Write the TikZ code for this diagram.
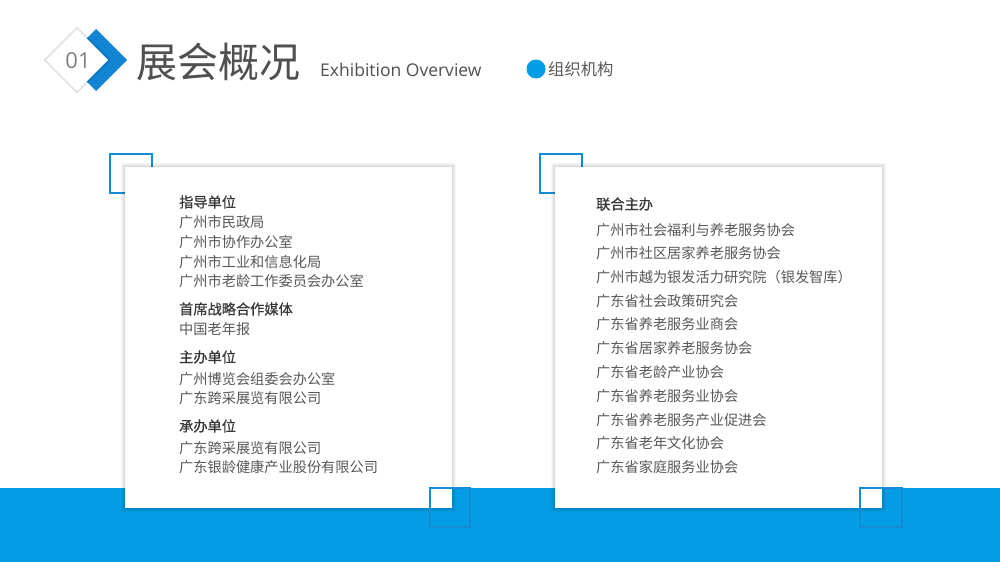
\documentclass[tikz,border=0pt]{standalone}
\usepackage{fontspec}
\setmainfont{Open Sans}
\newfontfamily\cjk{Noto Sans CJK SC}
\newfontfamily\cjkhead[FakeBold=0.7]{Noto Sans CJK SC}
\definecolor{band}{RGB}{3,157,230}
\definecolor{sqblue}{RGB}{22,140,214}
\definecolor{chev}{RGB}{18,132,212}
\definecolor{itemgray}{RGB}{88,88,88}
\definecolor{headgray}{RGB}{55,55,55}
\definecolor{titlegray}{RGB}{80,80,80}
\begin{document}
\begin{tikzpicture}[x=1pt,y=-1pt,
  sqbox/.style={draw=sqblue,line width=2.4pt},
  item/.style={anchor=base west,inner sep=0pt,text=itemgray,font=\cjk\fontsize{14.2}{16}\selectfont},
  head/.style={anchor=base west,inner sep=0pt,text=headgray,font=\cjkhead\fontsize{14.2}{16}\selectfont},
  card/.style={fill=white}]
\useasboundingbox (0,0) rectangle (1000,562);
\fill[white] (0,0) rectangle (1000,562);
% blue band
\fill[band] (0,488) rectangle (1000,562);
% header diamonds
\fill[chev] (96,29) -- (127,60) -- (96,91) -- (65,60) -- cycle;
\foreach \i in {1,2,3}{
  \fill[black,opacity=0.05] (77,29-\i) -- (108+\i,60) -- (77,91+\i) -- (46-\i,60) -- cycle;}
\fill[white] (77,29) -- (108,60) -- (77,91) -- (46,60) -- cycle;
\node[anchor=center,inner sep=0pt,text=gray,font=\fontsize{22}{24}\selectfont] (num) at (78,61) {01};
\node[anchor=base west,inner sep=0pt,text=titlegray,font=\cjk\fontsize{41}{44}\selectfont] (title) at (136,77.5) {展会概况};
\node[anchor=base west,inner sep=0pt,text=titlegray,font=\fontsize{17.5}{20}\selectfont] (sub) at (320,76) {Exhibition Overview};
\fill[band] (536,69) circle (9.5);
\node[anchor=base west,inner sep=0pt,text=itemgray,font=\cjk\fontsize{16.3}{18}\selectfont] (org) at (548,75.2) {组织机构};
% top-left squares behind cards
\draw[sqbox] (110,154) rectangle (152,193);
\draw[sqbox] (540,154) rectangle (582,193);
% card shadows
\foreach \i in {1,2,3,4}{
  \fill[black,opacity=0.035] (125-\i,167-\i) rectangle (452+\i,508+\i);
  \fill[black,opacity=0.035] (555-\i,167-\i) rectangle (882+\i,508+\i);}
\fill[card] (125,167) rectangle (452,508);
\fill[card] (555,167) rectangle (882,508);
% bottom-right squares over cards
\draw[sqbox] (430,488) rectangle (470,527);
\draw[sqbox] (860,488) rectangle (902,527);
% left card text
\node[head] (l1) at (179,207.4) {指导单位};
\node[item] (l2) at (179,227.4) {广州市民政局};
\node[item] (l3) at (179,247.4) {广州市协作办公室};
\node[item] (l4) at (179,267.4) {广州市工业和信息化局};
\node[item] (l5) at (179,286.4) {广州市老龄工作委员会办公室};
\node[head] (l6) at (179,314.4) {首席战略合作媒体};
\node[item] (l7) at (179,334.4) {中国老年报};
\node[head] (l8) at (179,362.4) {主办单位};
\node[item] (l9) at (179,384.4) {广州博览会组委会办公室};
\node[item] (l10) at (179,403.4) {广东跨采展览有限公司};
\node[head] (l11) at (179,431.4) {承办单位};
\node[item] (l12) at (179,453.4) {广东跨采展览有限公司};
\node[item] (l13) at (179,472.4) {广东银龄健康产业股份有限公司};
% right card text
\node[head] (r0) at (596,209.4) {联合主办};
\node[item] (r1) at (596,235.0) {广州市社会福利与养老服务协会};
\node[item] (r2) at (596,258.6) {广州市社区居家养老服务协会};
\node[item] (r3) at (596,282.4) {广州市越为银发活力研究院（银发智库）};
\node[item] (r4) at (596,306.0) {广东省社会政策研究会};
\node[item] (r5) at (596,329.8) {广东省养老服务业商会};
\node[item] (r6) at (596,353.6) {广东省居家养老服务协会};
\node[item] (r7) at (596,377.4) {广东省老龄产业协会};
\node[item] (r8) at (596,401.2) {广东省养老服务业协会};
\node[item] (r9) at (596,425.0) {广东省养老服务产业促进会};
\node[item] (r10) at (596,448.6) {广东省老年文化协会};
\node[item] (r11) at (596,472.4) {广东省家庭服务业协会};
\end{tikzpicture}
\end{document}
